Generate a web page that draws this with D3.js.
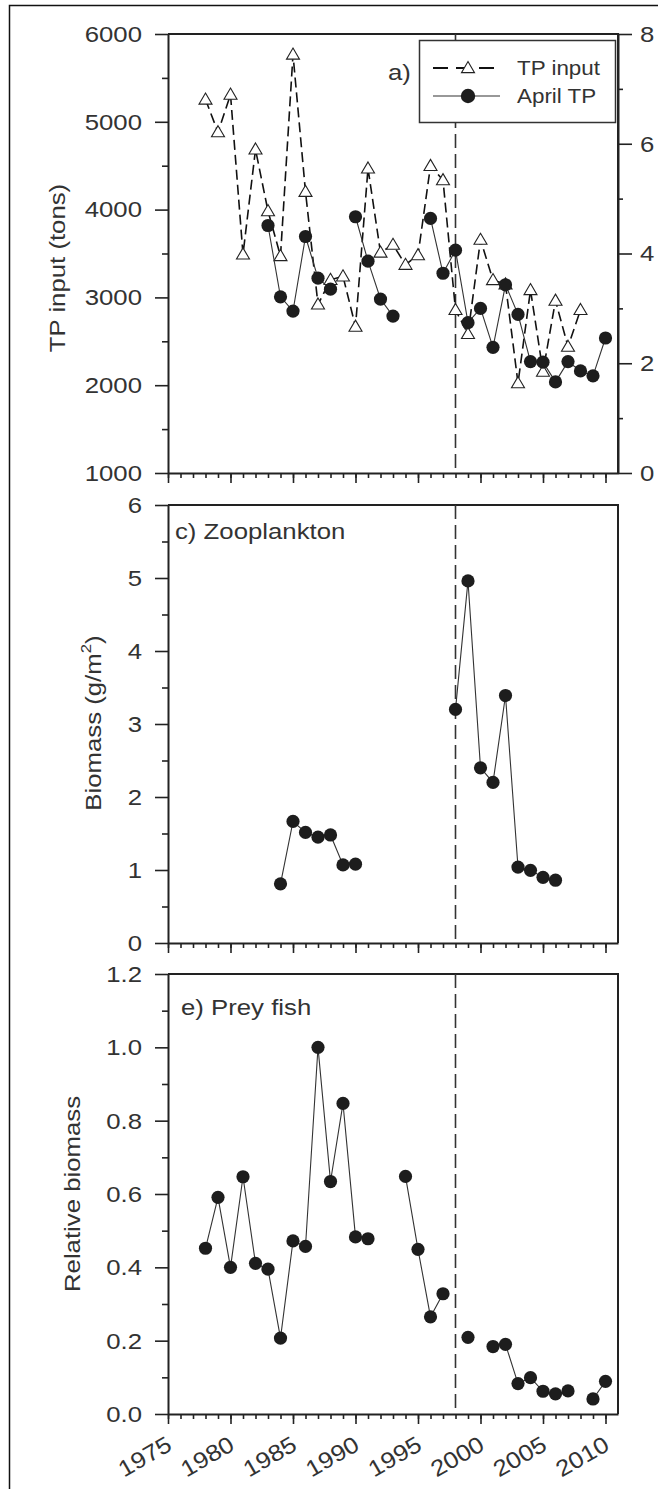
<!DOCTYPE html>
<html>
<head>
<meta charset="utf-8">
<script src="https://cdn.jsdelivr.net/npm/d3@7"></script>
<style>
  body { margin: 0; background: #fff; }
  svg { display: block; }
</style>
</head>
<body>
<script>
// 1. DATA -------------------------------------------------------------------------

// a) TP input (tons, left axis), dashed + open triangles
const tpYears = [1978, 1979, 1980, 1981, 1982, 1983, 1984, 1985, 1986, 1987, 1988, 1989, 1990,
                 1991, 1992, 1993, 1994, 1995, 1996, 1997, 1998, 1999, 2000, 2001, 2002, 2003,
                 2004, 2005, 2006, 2007, 2008];
const tpInput = [5254, 4882, 5310, 3490, 4685, 3983, 3471, 5766, 4203, 2920, 3200, 3240, 2667,
                 4469, 3511, 3600, 3372, 3481, 4498, 4336, 2857, 2584, 3657, 3198, 3150, 2023,
                 3084, 2155, 2963, 2439, 2857];

// a) April TP (right axis), solid + dots, null = no sample
const aprilYears = [1983, 1984, 1985, 1986, 1987, 1988, 1989, 1990, 1991, 1992, 1993, 1994, 1995,
                    1996, 1997, 1998, 1999, 2000, 2001, 2002, 2003, 2004, 2005, 2006, 2007, 2008,
                    2009, 2010];
const aprilTP = [4.51, 3.21, 2.95, 4.31, 3.55, 3.35, null, 4.67, 3.86, 3.17, 2.86, null, null,
                 4.64, 3.64, 4.06, 2.74, 3.00, 2.29, 3.43, 2.89, 2.03, 2.02, 1.66, 2.03, 1.86,
                 1.77, 2.46];

// c) Zooplankton biomass (g/m2)
const zooYears = [1984, 1985, 1986, 1987, 1988, 1989, 1990, 1991, 1992, 1993, 1994, 1995, 1996,
                  1997, 1998, 1999, 2000, 2001, 2002, 2003, 2004, 2005, 2006];
const zooBiomass = [0.81, 1.665, 1.515, 1.45, 1.48, 1.07, 1.08, null, null, null, null, null, null,
                    null, 3.20, 4.96, 2.40, 2.20, 3.39, 1.04, 0.995, 0.90, 0.86];

// e) Prey fish relative biomass
const fishYears = [1978, 1979, 1980, 1981, 1982, 1983, 1984, 1985, 1986, 1987, 1988, 1989, 1990,
                   1991, 1992, 1993, 1994, 1995, 1996, 1997, 1998, 1999, 2000, 2001, 2002, 2003,
                   2004, 2005, 2006, 2007, 2008, 2009, 2010];
const fishBiomass = [0.452, 0.591, 0.400, 0.647, 0.411, 0.395, 0.207, 0.472, 0.457, 1.000, 0.634,
                     0.847, 0.483, 0.478, null, null, 0.648, 0.449, 0.265, 0.328, null, 0.209,
                     null, 0.184, 0.190, 0.083, 0.099, 0.062, 0.055, 0.063, null, 0.041, 0.089];

// ticks
const yearTicks = [1975, 1980, 1985, 1990, 1995, 2000, 2005, 2010];
const tpTicks = [1000, 2000, 3000, 4000, 5000, 6000];
const aprilTicks = [0, 2, 4, 6, 8];
const zooTicks = [0, 1, 2, 3, 4, 5, 6];
const fishTicks = [0, 0.2, 0.4, 0.6, 0.8, 1.0, 1.2];
const splitYear = 1998;

// 2. LAYOUT -------------------------------------------------------------------------

const width = 658,
      height = 1489,
      left = 168,
      right = 618,
      fontSize = 23,
      stretch = "scale(1.12,1)",
      textColor = "#333",
      inkColor = "#1d1d1d",
      font = "'Liberation Sans', Arial, sans-serif";

const svg = d3.select("body")
  .append("svg")
  .attr("width", width)
  .attr("height", height);

// outer frame (left and top edges only are visible)
svg.append("path")
  .attr("d", `M9.5,${height} V5.5 H${width}`)
  .attr("fill", "none")
  .attr("stroke", "#111")
  .attr("stroke-width", 1.5);

const x = d3.scaleLinear().domain([1975, 2011]).range([left, right]);

const panels = [
  { top: 34,  bottom: 473 },
  { top: 505, bottom: 943 },
  { top: 974, bottom: 1414 }
];

const yTP    = d3.scaleLinear().domain([1000, 6000]).range([panels[0].bottom, panels[0].top]);
const yApril = d3.scaleLinear().domain([0, 8]).range([panels[0].bottom, panels[0].top]);
const yZoo   = d3.scaleLinear().domain([0, 6]).range([panels[1].bottom, panels[1].top]);
const yFish  = d3.scaleLinear().domain([0, 1.2]).range([panels[2].bottom, panels[2].top]);

// helpers ____________

const styleAxis = g => {
  g.attr("color", "#222").attr("font-size", fontSize).attr("font-family", font);
  g.select(".domain").attr("stroke-width", 2);
  g.selectAll(".tick line").attr("stroke-width", 1.6);
  g.selectAll("text").attr("fill", textColor);
};

// stretch tick labels a bit wider, like the original figure's type
const stretchLabels = g => g.selectAll("text")
  .attr("transform", function() { return `translate(${this.getAttribute("x") || 0},0) ${stretch}`; })
  .attr("x", null);

const minorAxis = (axis, values, size) => axis.tickValues(values).tickSize(size).tickFormat("").tickSizeOuter(0);

const drawYAxis = (y, major, minor, fmt) => {
  svg.append("g")
    .attr("transform", `translate(${left},0)`)
    .call(minorAxis(d3.axisLeft(y), minor, 6))
    .call(styleAxis)
    .call(g => g.select(".domain").remove());
  svg.append("g")
    .attr("transform", `translate(${left},0)`)
    .call(d3.axisLeft(y).tickValues(major).tickSize(13).tickPadding(13).tickSizeOuter(0).tickFormat(fmt))
    .call(styleAxis)
    .call(stretchLabels);
};

const drawXAxis = (p, withLabels) => {
  svg.append("g")
    .attr("transform", `translate(0,${p.bottom})`)
    .call(minorAxis(d3.axisBottom(x), d3.range(1975, 2011), 5))
    .call(styleAxis)
    .call(g => g.select(".domain").remove());
  const g = svg.append("g")
    .attr("transform", `translate(0,${p.bottom})`)
    .call(d3.axisBottom(x).tickValues(yearTicks).tickSize(10).tickSizeOuter(0)
      .tickFormat(withLabels ? d3.format("d") : ""))
    .call(styleAxis);
  g.selectAll("text")
    .attr("y", null)
    .attr("dy", null)
    .attr("text-anchor", "end")
    .attr("transform", `translate(5,35) rotate(-30) ${stretch}`);
};

const drawFrame = p => {
  svg.append("path")
    .attr("d", `M${left},${p.top} H${right} V${p.bottom}`)
    .attr("fill", "none")
    .attr("stroke", "#222")
    .attr("stroke-width", 2);
  svg.append("line")
    .attr("x1", x(splitYear)).attr("x2", x(splitYear))
    .attr("y1", p.top).attr("y2", p.bottom)
    .attr("stroke", "#333")
    .attr("stroke-width", 1.6)
    .attr("stroke-dasharray", "14,6");
};

const addText = (str, tx, ty, opts = {}) => svg.append("text")
  .attr("transform", `translate(${tx},${ty}) rotate(${opts.rotate || 0}) ${stretch}`)
  .attr("text-anchor", opts.anchor || "start")
  .attr("font-family", font)
  .attr("font-size", opts.size || fontSize)
  .attr("fill", textColor)
  .text(str);

const pairs = (years, values) => years.map((yr, i) => ({ year: yr, value: values[i] }));

const triangle = "M0,-6.5 L6.5,4.6 L-6.5,4.6 Z";

const drawSeries = (data, y, opts) => {
  const line = d3.line()
    .defined(d => d.value != null)
    .x(d => x(d.year))
    .y(d => y(d.value));
  svg.append("path")
    .datum(data)
    .attr("d", line)
    .attr("fill", "none")
    .attr("stroke", opts.dashed ? "#111" : "#333")
    .attr("stroke-width", opts.dashed ? 1.6 : 1.1)
    .attr("stroke-dasharray", opts.dashed ? "10,5" : null);
  const pts = data.filter(d => d.value != null);
  if (opts.triangle) {
    svg.append("g").selectAll("path")
      .data(pts)
      .join("path")
      .attr("d", triangle)
      .attr("transform", d => `translate(${x(d.year)},${y(d.value)})`)
      .attr("fill", "#fff")
      .attr("stroke", "#222")
      .attr("stroke-width", 1.1);
  } else {
    svg.append("g").selectAll("circle")
      .data(pts)
      .join("circle")
      .attr("cx", d => x(d.year))
      .attr("cy", d => y(d.value))
      .attr("r", 6.6)
      .attr("fill", inkColor);
  }
};

// 3. PANEL A: TP input / April TP -------------------------------------------------------------------------

drawFrame(panels[0]);
drawYAxis(yTP, tpTicks, d3.range(1500, 6000, 1000), d3.format("d"));
drawXAxis(panels[0], false);

// right axis for April TP
svg.append("g")
  .attr("transform", `translate(${right},0)`)
  .call(minorAxis(d3.axisRight(yApril), [1, 3, 5, 7], 5))
  .call(styleAxis)
  .call(g => g.select(".domain").remove());
svg.append("g")
  .attr("transform", `translate(${right},0)`)
  .call(d3.axisRight(yApril).tickValues(aprilTicks).tickSize(14).tickPadding(8).tickSizeOuter(0))
  .call(styleAxis)
  .call(stretchLabels);

drawSeries(pairs(tpYears, tpInput), yTP, { dashed: true, triangle: true });
drawSeries(pairs(aprilYears, aprilTP), yApril, {});

addText("TP input (tons)", 65, 268, { rotate: -90, anchor: "middle" });
addText("a)", 388, 80);

// legend
svg.append("rect")
  .attr("x", 419.5).attr("y", 40.5)
  .attr("width", 196).attr("height", 82)
  .attr("fill", "#fff")
  .attr("stroke", "#333")
  .attr("stroke-width", 1.5);
svg.append("line")
  .attr("x1", 433).attr("x2", 500).attr("y1", 68).attr("y2", 68)
  .attr("stroke", "#111").attr("stroke-width", 1.8).attr("stroke-dasharray", "15,8");
svg.append("path")
  .attr("d", triangle)
  .attr("transform", "translate(468,68)")
  .attr("fill", "#fff").attr("stroke", "#222").attr("stroke-width", 1.1);
svg.append("line")
  .attr("x1", 433).attr("x2", 500).attr("y1", 96).attr("y2", 96)
  .attr("stroke", "#333").attr("stroke-width", 1.1);
svg.append("circle")
  .attr("cx", 468).attr("cy", 96).attr("r", 7.2).attr("fill", inkColor);
addText("TP input", 517, 75, { size: 20 });
addText("April TP", 517, 103, { size: 20 });

// 4. PANEL C: Zooplankton -------------------------------------------------------------------------

drawFrame(panels[1]);
drawYAxis(yZoo, zooTicks, d3.range(0.5, 6, 1), d3.format("d"));
drawXAxis(panels[1], false);
drawSeries(pairs(zooYears, zooBiomass), yZoo, {});
addText("c) Zooplankton", 175, 539);

const bioTitle = addText("Biomass (g/m", 101, 723, { rotate: -90, anchor: "middle" });
bioTitle.append("tspan").attr("font-size", 15).attr("dy", -10).text("2");
bioTitle.append("tspan").attr("dy", 10).text(")");

// 5. PANEL E: Prey fish -------------------------------------------------------------------------

drawFrame(panels[2]);
drawYAxis(yFish, fishTicks, d3.range(0.1, 1.2, 0.2), d3.format(".1f"));
drawXAxis(panels[2], true);
drawSeries(pairs(fishYears, fishBiomass), yFish, {});
addText("e) Prey fish", 181, 1015);
addText("Relative biomass", 80, 1194, { rotate: -90, anchor: "middle" });
</script>
</body>
</html>
